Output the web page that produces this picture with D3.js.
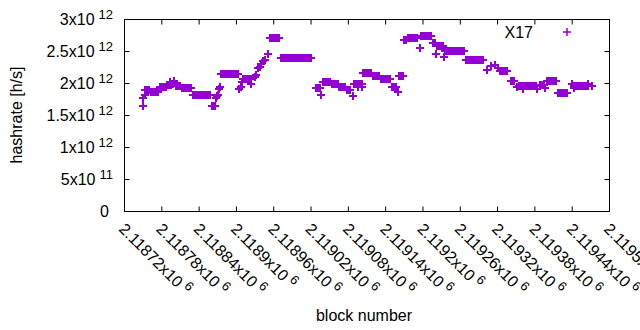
<!DOCTYPE html>
<html>
<head>
<meta charset="utf-8">
<script src="https://cdn.jsdelivr.net/npm/d3@7/dist/d3.min.js"></script>
<style>
body { margin: 0; background: #fff; }
text { font-family: "Liberation Sans", Arial, sans-serif; fill: #000; }
</style>
</head>
<body>
<script>
// block numbers and estimated hashrate (x10^12 h/s)
var blockNumber = [
  2118750, 2118751, 2118753, 2118754, 2118757, 2118760,
  2118763, 2118766, 2118769, 2118772, 2118775,
  2118778, 2118781, 2118784, 2118787, 2118790, 2118793, 2118794, 2118796, 2118799, 2118801,
  2118804, 2118807, 2118810,
  2118813, 2118816, 2118819, 2118822, 2118825, 2118828,
  2118831, 2118834, 2118837, 2118840, 2118843,
  2118846, 2118849, 2118852, 2118855, 2118858,
  2118862, 2118865, 2118867, 2118868, 2118870, 2118871, 2118873, 2118874,
  2118876, 2118879, 2118882, 2118885, 2118888, 2118891, 2118894, 2118897, 2118900, 2118903,
  2118905, 2118908, 2118910, 2118912, 2118915, 2118918, 2118921, 2118924, 2118925,
  2118930, 2118933, 2118936, 2118938, 2118941, 2118944, 2118946, 2118951,
  2118954, 2118957, 2118960, 2118963, 2118966, 2118969,
  2118972, 2118975, 2118978, 2118981, 2118984, 2118987, 2118990, 2118993, 2118996,
  2118999, 2119002, 2119005, 2119008, 2119011, 2119014, 2119017, 2119020,
  2119029, 2119032, 2119035, 2119037,
  2119040, 2119043, 2119046, 2119049, 2119052,
  2119055, 2119058, 2119061, 2119064,
  2119066, 2119069, 2119072, 2119075,
  2119078, 2119081, 2119084, 2119088,
  2119090, 2119093, 2119096, 2119099, 2119102, 2119097, 2119103, 2119104,
  2119106, 2119109, 2119112, 2119115, 2119118,
  2119121, 2119124, 2119127, 2119130,
  2119133, 2119136, 2119139, 2119142, 2119145, 2119148,
  2119151, 2119154, 2119157, 2119161,
  2119162, 2119165, 2119168, 2119171, 2119174,
  2119177, 2119180, 2119183, 2119186, 2119189, 2119192, 2119196,
  2119198, 2119201, 2119204, 2119207, 2119210, 2119213,
  2119217, 2119220, 2119222,
  2119224, 2119227, 2119230, 2119233, 2119235,
  2119237, 2119240, 2119243, 2119246, 2119249, 2119252, 2119255, 2119258, 2119261, 2119264, 2119267,
  2119270, 2119273, 2119276, 2119279, 2119282, 2119285, 2119288, 2119291, 2119294, 2119297,
  2119304, 2119311, 2119316, 2119321,
  2119324, 2119327, 2119330, 2119333, 2119336,
  2119342, 2119345, 2119348, 2119352,
  2119355, 2119358, 2119361, 2119364, 2119367, 2119370, 2119373, 2119376, 2119379, 2119382,
  2119362, 2119385,
  2119389, 2119392, 2119395, 2119397,
  2119400, 2119403, 2119406, 2119409, 2119412, 2119415,
  2119418, 2119421, 2119424, 2119427, 2119430, 2119433,
  2119440, 2119444,
  2119443, 2119446, 2119449, 2119452, 2119455, 2119458, 2119461, 2119464, 2119467,
  2119466, 2119472
];
var hashrate = [
  1.64, 1.76, 1.82, 1.89, 1.89, 1.89,
  1.86, 1.86, 1.86, 1.86, 1.86,
  1.93, 1.93, 1.93, 1.93, 1.97, 1.97, 2.01, 1.97, 1.98, 2.03,
  1.95, 1.95, 1.95,
  1.92, 1.92, 1.92, 1.92, 1.92, 1.92,
  1.81, 1.81, 1.81, 1.81, 1.81,
  1.82, 1.82, 1.82, 1.82, 1.82,
  1.64, 1.64, 1.64, 1.76, 1.79, 1.81, 1.90, 1.94,
  2.14, 2.14, 2.14, 2.14, 2.14, 2.14, 2.14, 2.14, 2.14, 2.14,
  1.90, 1.94, 2.02, 2.06, 2.06, 2.06, 2.06, 2.06, 1.99,
  2.09, 2.12, 2.24, 2.25, 2.30, 2.34, 2.36, 2.46,
  2.70, 2.70, 2.70, 2.70, 2.70, 2.70,
  2.39, 2.39, 2.39, 2.39, 2.39, 2.39, 2.39, 2.39, 2.39,
  2.39, 2.39, 2.39, 2.39, 2.39, 2.39, 2.39, 2.39,
  1.92, 1.92, 1.92, 1.82,
  2.01, 2.01, 2.01, 2.01, 2.01,
  1.98, 1.98, 1.98, 1.98,
  1.94, 1.94, 1.94, 1.94,
  1.89, 1.89, 1.89, 1.80,
  1.98, 1.98, 1.98, 1.98, 1.98, 1.93, 1.93, 2.15,
  2.16, 2.16, 2.16, 2.16, 2.16,
  2.11, 2.11, 2.11, 2.11,
  2.07, 2.07, 2.07, 2.07, 2.07, 2.07,
  1.93, 1.93, 1.93, 1.86,
  2.11, 2.11, 2.11, 2.67, 2.67,
  2.71, 2.71, 2.71, 2.71, 2.71, 2.71, 2.54,
  2.73, 2.73, 2.73, 2.73, 2.73, 2.73,
  2.62, 2.62, 2.45,
  2.58, 2.58, 2.58, 2.58, 2.41,
  2.50, 2.50, 2.50, 2.50, 2.50, 2.50, 2.50, 2.50, 2.50, 2.50, 2.50,
  2.36, 2.36, 2.36, 2.36, 2.36, 2.36, 2.36, 2.36, 2.36, 2.36,
  2.21, 2.27, 2.28, 2.24,
  2.19, 2.19, 2.19, 2.19, 2.19,
  2.03, 2.03, 2.03, 1.94,
  1.95, 1.95, 1.95, 1.95, 1.95, 1.95, 1.95, 1.95, 1.95, 1.95,
  1.91, 1.90,
  1.97, 1.97, 1.97, 1.92,
  2.03, 2.03, 2.03, 2.03, 2.03, 2.03,
  1.84, 1.84, 1.84, 1.84, 1.84, 1.84,
  1.98, 1.92,
  1.95, 1.95, 1.95, 1.95, 1.95, 1.95, 1.95, 1.95, 1.95,
  1.98, 1.95
];
var seriesName = 'X17';

var xTickValues = [2118720, 2118780, 2118840, 2118900, 2118960, 2119020, 2119080,
                   2119140, 2119200, 2119260, 2119320, 2119380, 2119440, 2119500];
var xTickLabels = ['2.11872', '2.11878', '2.11884', '2.1189', '2.11896', '2.11902', '2.11908',
                   '2.11914', '2.1192', '2.11926', '2.11932', '2.11938', '2.11944', '2.1195'];
var xTickExp = '6';

var yTickValues = [0, 0.5, 1, 1.5, 2, 2.5, 3];
var yTickLabels = ['0', '5', '1', '1.5', '2', '2.5', '3'];
var yTickExp = ['', '11', '12', '12', '12', '12', '12'];

var width = 640, height = 330;
var plotL = 124, plotR = 609, plotT = 19, plotB = 211;
var purple = '#9400d3';

var svg = d3.select('body').append('svg')
    .attr('width', width)
    .attr('height', height);

var x = d3.scaleLinear().domain([xTickValues[0], xTickValues[xTickValues.length - 1]]).range([plotL, plotR]);
var y = d3.scaleLinear().domain([0, 3]).range([plotB, plotT]);

// tics on all four sides, pointing inward
function tics(axis, tx, ty) {
    var g = svg.append('g').attr('transform', 'translate(' + tx + ',' + ty + ')').call(axis);
    g.select('.domain').remove();
    g.selectAll('.tick line').attr('stroke', '#000');
    return g;
}
tics(d3.axisBottom(x).tickValues(xTickValues).tickSize(-5).tickFormat(''), 0, plotB + 0.5);
tics(d3.axisTop(x).tickValues(xTickValues).tickSize(-5).tickFormat(''), 0, plotT + 0.5);
tics(d3.axisLeft(y).tickValues(yTickValues).tickSize(-5).tickFormat(''), plotL + 0.5, 0);
tics(d3.axisRight(y).tickValues(yTickValues).tickSize(-5).tickFormat(''), plotR + 0.5, 0);

svg.append('rect')
    .attr('x', plotL + 0.5).attr('y', plotT + 0.5)
    .attr('width', plotR - plotL).attr('height', plotB - plotT)
    .attr('fill', 'none').attr('stroke', '#000').attr('stroke-width', 1);

// y tic labels with superscript exponent
var yl = svg.append('g').selectAll('text')
    .data(yTickValues)
    .enter().append('text')
    .attr('x', function(d, i) { return yTickExp[i] ? 113 : 109; })
    .attr('y', function(d) { return y(d); })
    .attr('dy', '0.35em')
    .attr('text-anchor', 'end')
    .style('font-size', '16px');
yl.append('tspan').text(function(d, i) { return yTickExp[i] ? yTickLabels[i] + 'x10' : yTickLabels[i]; });
yl.filter(function(d, i) { return yTickExp[i]; })
    .append('tspan').attr('dx', 4).attr('dy', -6).style('font-size', '13px')
    .text(function(d) { return yTickExp[yTickValues.indexOf(d)]; });

// x tic labels, rotated
var xl = svg.append('g').selectAll('text')
    .data(xTickValues)
    .enter().append('text')
    .attr('transform', function(d) { return 'translate(' + (x(d) - 2) + ',' + 226 + ') rotate(45)'; })
    .attr('dy', '0.35em')
    .attr('text-anchor', 'start')
    .style('font-size', '16px');
xl.append('tspan').text(function(d, i) { return xTickLabels[i] + 'x10'; });
xl.append('tspan').attr('dx', 4).attr('dy', -6).style('font-size', '13px').text(xTickExp);

// axis titles
svg.append('text')
    .attr('transform', 'translate(22,115) rotate(-90)')
    .attr('text-anchor', 'middle')
    .style('font-size', '16px')
    .text('hashrate [h/s]');
svg.append('text')
    .attr('x', 364).attr('y', 321)
    .attr('text-anchor', 'middle')
    .style('font-size', '16px')
    .text('block number');

// points
var cross = 'M-4,0H4M0,-4V4';
svg.append('g').selectAll('path')
    .data(blockNumber)
    .enter().append('path')
    .attr('d', cross)
    .attr('transform', function(d, i) { return 'translate(' + x(d) + ',' + y(hashrate[i]) + ')'; })
    .attr('fill', 'none')
    .attr('stroke', purple)
    .attr('stroke-width', 2)
    .attr('shape-rendering', 'crispEdges');

// key
svg.append('text')
    .attr('x', 533).attr('y', 32).attr('dy', '0.35em')
    .attr('text-anchor', 'end')
    .style('font-size', '16px')
    .text(seriesName);
svg.append('path')
    .attr('d', cross)
    .attr('transform', 'translate(567,32)')
    .attr('fill', 'none')
    .attr('stroke', purple)
    .attr('stroke-width', 1.5);
</script>
</body>
</html>
